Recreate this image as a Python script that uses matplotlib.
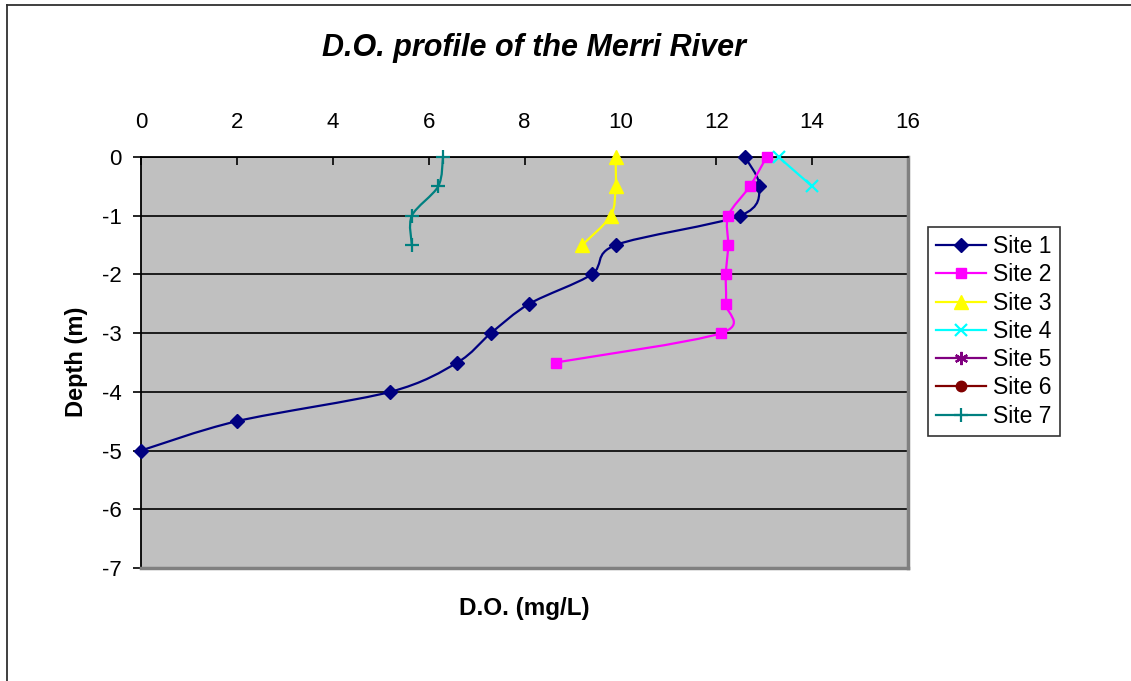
import numpy as np
import matplotlib
matplotlib.use("Agg")
import matplotlib.pyplot as plt
from matplotlib.path import Path
from matplotlib.patches import PathPatch
from matplotlib.lines import Line2D

plt.rcParams['font.family'] = ['Liberation Sans', 'DejaVu Sans']

# ---- data ----
depth = [0, -0.5, -1, -1.5, -2, -2.5, -3, -3.5, -4, -4.5, -5]
site1 = [12.6, 12.9, 12.5, 9.9, 9.4, 8.1, 7.3, 6.6, 5.2, 2.0, 0.0]
site2 = [13.05, 12.7, 12.25, 12.25, 12.2, 12.2, 12.1, 8.65]
site3 = [9.9, 9.9, 9.8, 9.2]
site4 = [13.3, 14.0]
site5 = []
site6 = []
site7 = [6.3, 6.2, 5.65, 5.65]
labels = ["Site 1", "Site 2", "Site 3", "Site 4", "Site 5", "Site 6", "Site 7"]
series = [site1, site2, site3, site4, site5, site6, site7]

colors = ["#000080", "#FF00FF", "#FFFF00", "#00FFFF", "#800080", "#800000", "#008080"]
markers = ["D", "s", "^", "x", (6, 2, 0), "o", "+"]
msizes = [7.5, 7.5, 9.5, 9, 9.5, 7.5, 10]

xticks = list(range(0, 17, 2))
yticks = list(range(0, -8, -1))

W, H = 1131, 681
fig = plt.figure(figsize=(W / 100, H / 100), dpi=100)
ax = fig.add_axes([141 / W, 1 - 568 / H, (908 - 141) / W, (568 - 157) / H])
ax.set_facecolor("#C0C0C0")
ax.set_xlim(0, 16)
ax.set_ylim(-7, 0)


def smooth_path(xs, ys, k=1 / 6.5):
    pts = np.column_stack([xs, ys]).astype(float)
    n = len(pts)
    verts = [pts[0]]
    codes = [Path.MOVETO]
    for i in range(n - 1):
        p0 = pts[i - 1] if i > 0 else pts[i]
        p1 = pts[i]
        p2 = pts[i + 1]
        p3 = pts[i + 2] if i + 2 < n else pts[i + 1]
        c1 = p1 + (p2 - p0) * k
        c2 = p2 - (p3 - p1) * k
        verts += [c1, c2, p2]
        codes += [Path.CURVE4] * 3
    return Path(verts, codes)


def mew_for(m):
    return 1.6 if m in ("x", "+", (6, 2, 0)) else 1.0


handles = []
for vals, lab, c, m, ms in zip(series, labels, colors, markers, msizes):
    ys = depth[:len(vals)]
    if len(vals) >= 2:
        patch = PathPatch(smooth_path(vals, ys), facecolor="none", edgecolor=c,
                          lw=1.6, zorder=3)
        ax.add_patch(patch)
    if len(vals) > 0:
        ax.plot(vals, ys, linestyle="none", marker=m, color=c, ms=ms,
                mew=mew_for(m), zorder=4, clip_on=False)
    handles.append(Line2D([], [], color=c, lw=1.6, marker=m, ms=ms, mew=mew_for(m)))

# grid / axes
ax.set_yticks(yticks)
ax.set_xticks(xticks)
ax.yaxis.grid(True, color="#000000", lw=1.2)
ax.set_axisbelow(True)
ax.xaxis.tick_top()
ax.xaxis.set_label_position("top")
ax.tick_params(axis="x", direction="in", length=6, width=1.2, pad=17, labelsize=16,
               top=True, bottom=False)
ax.tick_params(axis="y", direction="out", length=6, width=1.2, pad=8, labelsize=16)
ax.set_yticklabels([str(t) for t in yticks])
for s in ("top", "left"):
    ax.spines[s].set_color("#000000")
    ax.spines[s].set_linewidth(1.3)
for s in ("bottom", "right"):
    ax.spines[s].set_color("#808080")
    ax.spines[s].set_linewidth(2.5)

# texts
fig.text(534 / W, 1 - 48 / H, "D.O. profile of the Merri River", ha="center", va="center",
         fontsize=22, fontweight="bold", fontstyle="italic")
fig.text(524 / W, 1 - 609 / H, "D.O. (mg/L)", ha="center", va="center",
         fontsize=17.5, fontweight="bold")
fig.text(77 / W, 1 - 362 / H, "Depth (m)", ha="center", va="center", rotation=90,
         fontsize=17, fontweight="bold")

leg = fig.legend(handles, labels, loc="upper left",
                 bbox_to_anchor=(928 / W, 1 - 227 / H), bbox_transform=fig.transFigure,
                 frameon=True, fancybox=False, edgecolor="#000000", fontsize=16.5,
                 handlelength=2.2, handletextpad=0.3, labelspacing=0.23,
                 borderpad=0.35, borderaxespad=0)
leg.get_frame().set_linewidth(1.2)

# outer chart border (left and top visible)
fig.add_artist(Line2D([7 / W, 7 / W], [0, 1 - 5 / H], transform=fig.transFigure,
                      color="#303030", lw=1.3))
fig.add_artist(Line2D([7 / W, 1], [1 - 5 / H, 1 - 5 / H], transform=fig.transFigure,
                      color="#303030", lw=1.3))

fig.savefig("out.png", dpi=100)
